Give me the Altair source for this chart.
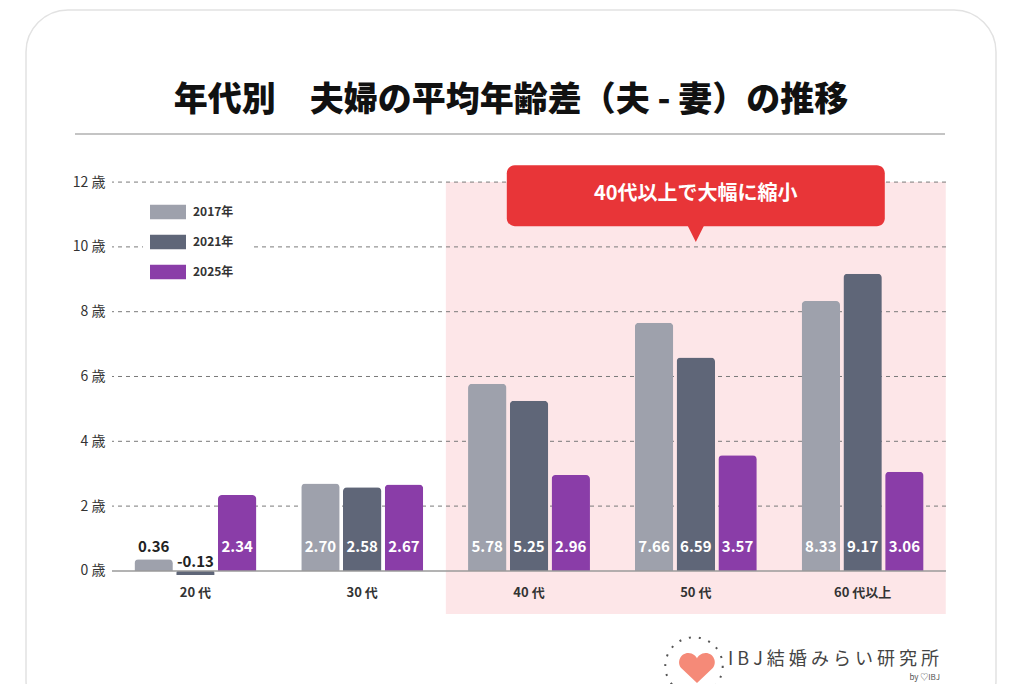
import altair as alt
import pandas as pd

# ---- data ----
ages = ["20 代", "30 代", "40 代", "50 代", "60 代以上"]
years = ["2017年", "2021年", "2025年"]
v2017 = [0.36, 2.70, 5.78, 7.66, 8.33]
v2021 = [-0.13, 2.58, 5.25, 6.59, 9.17]
v2025 = [2.34, 2.67, 2.96, 3.57, 3.06]
y_ticks = [0, 2, 4, 6, 8, 10, 12]
grid_ticks = [2, 4, 6, 8, 10, 12]
title_text = "年代別　夫婦の平均年齢差（夫 - 妻）の推移"
callout_text = "40代以上で大幅に縮小"
logo_text = "I B J 結 婚 み ら い 研 究 所"
logo_by = "by ♡IBJ"

colors = ["#9ea1ac", "#5f6678", "#8a3da8"]
F = "Noto Sans CJK JP"

rows = []
for i, a in enumerate(ages):
    for y, vals in zip(years, [v2017, v2021, v2025]):
        rows.append({"age": a, "year": y, "value": vals[i]})
df = pd.DataFrame(rows)

Y_MIN, Y_MAX = -1.33, 12.62
yscale = alt.Scale(domain=[Y_MIN, Y_MAX], nice=False, zero=False)
AX = alt.Axis(values=y_ticks, labelExpr="datum.value + ' 歳'", title=None,
              domain=False, ticks=False, grid=False, labelFont=F,
              labelFontSize=14, labelColor="#333", labelPadding=7, zindex=2)
xscale = alt.Scale(domain=ages, paddingInner=0.269, paddingOuter=0.1345)
X = alt.X("age:N", sort=ages, scale=xscale, axis=None)

one = pd.DataFrame({"age": ["50 代"]})

# card frame
card = alt.Chart(pd.DataFrame({"k": [1]})).mark_rect(
    fill="white", fillOpacity=0, stroke="#e2e2e2", strokeWidth=1.5, cornerRadius=42
).encode(x=alt.value(-86), x2=alt.value(884), y=alt.value(-152), y2=alt.value(560))

title = alt.Chart(pd.DataFrame({"t": [title_text]})).mark_text(
    font=F, fontSize=34, fontWeight=900, color="#111", align="center", baseline="middle"
).encode(x=alt.value(399), y=alt.value(-61), text="t:N")

title_rule = alt.Chart(pd.DataFrame({"k": [1]})).mark_rule(
    color="#c4c4c4", strokeWidth=2
).encode(x=alt.value(-37), x2=alt.value(833), y=alt.value(-28))

pink = alt.Chart(one).mark_bar(color="#fde6e8", width={"band": 4.1}).encode(
    x=X, y=alt.Y(datum=12, scale=yscale, axis=AX), y2=alt.datum(Y_MIN)
)

grid = alt.Chart(pd.DataFrame({"tick": grid_ticks})).mark_rule(
    color="#7a7a7a", strokeWidth=1, strokeDash=[4, 4]
).encode(y=alt.Y("tick:Q", scale=yscale, axis=AX))

bars = alt.Chart(df).mark_bar(cornerRadiusEnd=4).encode(
    x=X,
    xOffset=alt.XOffset("year:N", sort=years, scale=alt.Scale(domain=years, paddingInner=0.08)),
    y=alt.Y("value:Q", scale=yscale, axis=AX),
    color=alt.Color("year:N", sort=years, scale=alt.Scale(domain=years, range=colors),
                    legend=alt.Legend(orient="none", legendX=31, legendY=25, title=None,
                                      fillColor="white", padding=16,
                                      symbolType="M-2,-0.8H2V0.8H-2Z", symbolSize=324,
                                      symbolStrokeWidth=0, labelFont=F, labelFontSize=12,
                                      labelFontWeight="bold", labelColor="#333",
                                      labelOffset=16, rowPadding=13)),
)

zero = alt.Chart(pd.DataFrame({"z": [0]})).mark_rule(color="#9a9a9a", strokeWidth=1.5).encode(
    y=alt.Y("z:Q", scale=yscale, axis=AX)
)

lab_common = dict(font=F, fontSize=15, fontWeight="bold", baseline="middle", align="center")
labels_pos = alt.Chart(df).transform_filter("datum.value >= 0").transform_calculate(
    lab="format(datum.value, '.2f')"
).mark_text(dy=-24, **lab_common).encode(
    x=X,
    xOffset=alt.XOffset("year:N", sort=years),
    y=alt.Y(datum=0, scale=yscale, axis=AX),
    text="lab:N",
    color=alt.condition("datum.value >= 1", alt.value("white"), alt.value("#222")),
)
labels_neg = alt.Chart(df).transform_filter("datum.value < 0").transform_calculate(
    lab="replace(format(datum.value, '.2f'), '\u2212', '-')"
).mark_text(dy=-9, color="#222", **lab_common).encode(
    x=X,
    xOffset=alt.XOffset("year:N", sort=years),
    y=alt.Y(datum=0, scale=yscale, axis=AX),
    text="lab:N",
)

xlabels = alt.Chart(pd.DataFrame({"age": ages})).mark_text(
    font=F, fontSize=13, fontWeight="bold", color="#333", baseline="middle"
).encode(x=X, y=alt.Y(datum=-0.68, scale=yscale, axis=AX), text="age:N")

callout_box = alt.Chart(one).mark_bar(color="#e83538", cornerRadius=8, width={"band": 3.1}).encode(
    x=X, y=alt.Y(datum=12.52, scale=yscale, axis=AX), y2=alt.datum(10.64)
)
callout_tip = alt.Chart(one).mark_point(
    shape="M-1,-1L1,-1L0,1Z", filled=True, color="#e83538", opacity=1, size=324
).encode(x=X, y=alt.Y(datum=10.43, scale=yscale, axis=AX))
callout_text_l = alt.Chart(pd.DataFrame({"age": ["50 代"], "t": [callout_text]})).mark_text(
    font=F, fontSize=20, fontWeight="bold", color="white", baseline="middle"
).encode(x=X, y=alt.Y(datum=11.62, scale=yscale, axis=AX), text="t:N")

ring = alt.Chart(pd.DataFrame({"k": [1]})).mark_point(
    shape="circle", filled=False, size=3300, stroke="#555", strokeWidth=2, strokeDash=[2, 8], opacity=1
).encode(x=alt.value(582), y=alt.value(504))
heart = alt.Chart(pd.DataFrame({"k": [1]})).mark_point(
    shape="M0,0.95 L-1.0,0.0 C-1.3,-0.35 -1.05,-0.95 -0.55,-0.95 C-0.25,-0.95 -0.05,-0.75 0,-0.6 "
          "C0.05,-0.75 0.25,-0.95 0.55,-0.95 C1.05,-0.95 1.3,-0.35 1.0,0.0 Z",
    filled=True, color="#f58a78", opacity=1, size=1000
).encode(x=alt.value(585), y=alt.value(506))
logo = alt.Chart(pd.DataFrame({"t": [logo_text]})).mark_text(
    font=F, fontSize=18, color="#444", baseline="middle", align="left"
).encode(x=alt.value(616), y=alt.value(498), text="t:N")
logo2 = alt.Chart(pd.DataFrame({"t": [logo_by]})).mark_text(
    font=F, fontSize=8, color="#555", baseline="middle", align="right"
).encode(x=alt.value(828), y=alt.value(516), text="t:N")

chart = alt.layer(
    card, title, title_rule, pink, grid, bars, zero, labels_pos, labels_neg, xlabels,
    callout_box, callout_tip, callout_text_l, ring, heart, logo, logo2
).properties(
    width=834, height=452,
    background="white",
    autosize=alt.AutoSizeParams(type="none"),
    padding={"left": 104, "top": 154, "right": 56, "bottom": 70},
).configure_view(strokeWidth=0, stroke=None)

chart.save("out.html", embed_options={"renderer": "svg", "actions": False})
